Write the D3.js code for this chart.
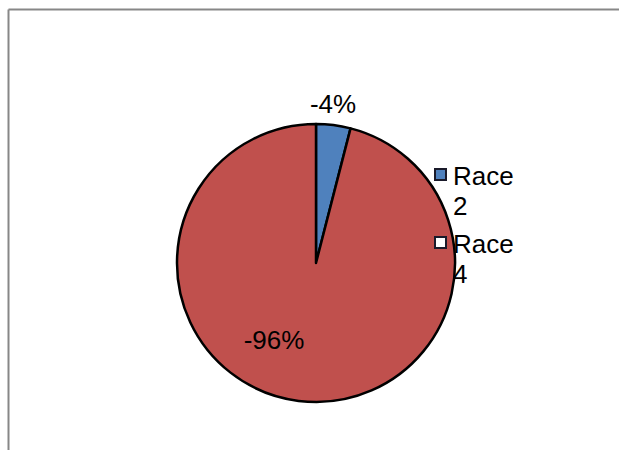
<!DOCTYPE html>
<html><head><meta charset="utf-8">
<script src="https://cdn.jsdelivr.net/npm/d3@7"></script>
<style>body{margin:0;background:#fff}svg{display:block}</style>
</head><body>
<script>
const categories = ["Race 2", "Race 4"];
const values = [-4, -96];
const labels = ["-4%", "-96%"];
const colors = ["#4F81BD", "#C0504D"];
const legendFills = ["#4F81BD", "#FFFFFF"];

const W = 619, H = 450;
const svg = d3.select("body").append("svg").attr("width", W).attr("height", H);

// frame lines
svg.append("line").attr("x1", 8.5).attr("x2", W).attr("y1", 9.5).attr("y2", 9.5)
  .attr("stroke", "#878787").attr("stroke-width", 2);
svg.append("line").attr("x1", 8.5).attr("x2", 8.5).attr("y1", 9.5).attr("y2", H)
  .attr("stroke", "#878787").attr("stroke-width", 2);

const cx = 316, cy = 263, r = 139;
const pie = d3.pie().sort(null).value(d => Math.abs(d));
const arcs = pie(values);
const arc = d3.arc().innerRadius(0).outerRadius(r);
const g = svg.append("g").attr("transform", `translate(${cx},${cy})`);
g.selectAll("path").data(arcs).join("path")
  .attr("d", arc)
  .attr("fill", (d, i) => colors[i])
  .attr("stroke", "#000").attr("stroke-width", 2.5).attr("stroke-linejoin", "round");

const font = "Liberation Sans, Arial, sans-serif";
// labels
const labelPos = [[333, 113], [274, 349]];
svg.selectAll("text.lbl").data(labels).join("text").attr("class", "lbl")
  .attr("x", (d, i) => labelPos[i][0]).attr("y", (d, i) => labelPos[i][1])
  .attr("text-anchor", "middle").attr("font-family", font).attr("font-size", 26)
  .attr("fill", "#000").text(d => d);

// legend
const lg = svg.append("g");
categories.forEach((c, i) => {
  const y0 = 169 + i * 68;
  lg.append("rect").attr("x", 435).attr("y", y0).attr("width", 11).attr("height", 11)
    .attr("fill", legendFills[i]).attr("stroke", "#1a1a2a").attr("stroke-width", 2);
  const parts = c.split(" ");
  const t = lg.append("text").attr("font-family", font).attr("font-size", 26).attr("fill", "#000");
  parts.forEach((p, j) => {
    t.append("tspan").attr("x", 453).attr("y", y0 + 16 + j * 30).text(p);
  });
});
</script>
</body></html>
